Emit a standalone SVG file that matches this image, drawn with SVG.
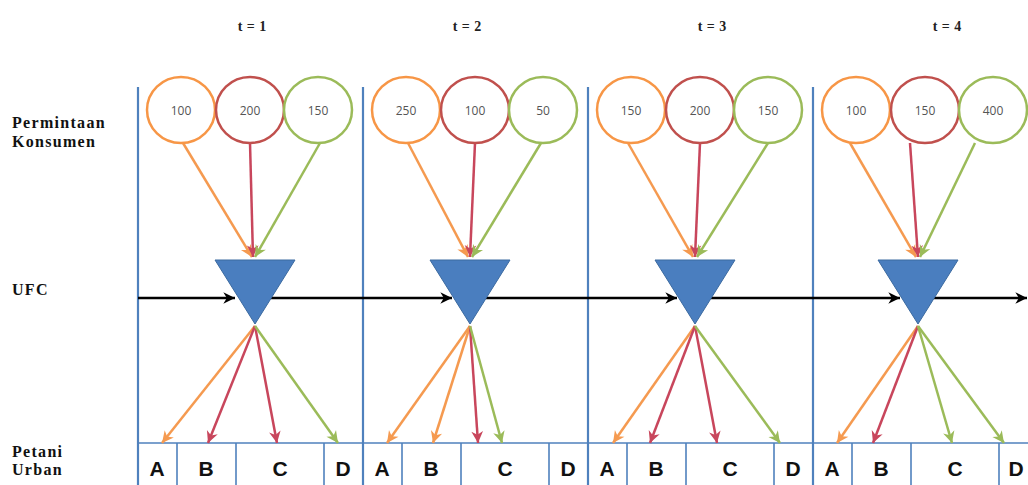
<svg xmlns="http://www.w3.org/2000/svg" width="1028" height="485" viewBox="0 0 1028 485">
<style>
.lbl{font-family:"Liberation Serif","Times New Roman",serif;font-weight:bold;font-size:16px;fill:#111;letter-spacing:1.3px}
.tl{font-family:"Liberation Serif","Times New Roman",serif;font-weight:bold;font-size:14px;fill:#222;text-anchor:middle;word-spacing:1px}
.num{font-family:"Open Sans","Liberation Sans",sans-serif;font-size:12px;fill:#555;text-anchor:middle}
.let{font-family:"Liberation Sans",Arial,sans-serif;font-weight:bold;font-size:21px;fill:#111;text-anchor:middle}
.panel{stroke:#4F81BD;stroke-width:2.2;fill:none}
.div{stroke:#4F81BD;stroke-width:1.6;fill:none}
.co{fill:#fff;stroke:#F79646;stroke-width:2.5}
.cr{fill:#fff;stroke:#C0504D;stroke-width:2.5}
.cg{fill:#fff;stroke:#9BBB59;stroke-width:2.5}
.ao{stroke:#F59A50;stroke-width:2.5;fill:none;marker-end:url(#mo)}
.ar{stroke:#C8465C;stroke-width:2.5;fill:none;marker-end:url(#mr)}
.ag{stroke:#9BBB59;stroke-width:2.5;fill:none;marker-end:url(#mg)}
.ak{stroke:#000;stroke-width:2.5;fill:none;marker-end:url(#mk)}
.tri{fill:#4A7EBF;stroke:#3B6AA0;stroke-width:1}
</style>
<defs>
<marker id="mo" markerUnits="userSpaceOnUse" markerWidth="14" markerHeight="14" viewBox="0 0 12 12" refX="11" refY="6" orient="auto"><path d="M1,1 L11,6 L1,11 L4,6 z" fill="#F59A50"/></marker>
<marker id="mr" markerUnits="userSpaceOnUse" markerWidth="14" markerHeight="14" viewBox="0 0 12 12" refX="11" refY="6" orient="auto"><path d="M1,1 L11,6 L1,11 L4,6 z" fill="#C8465C"/></marker>
<marker id="mg" markerUnits="userSpaceOnUse" markerWidth="14" markerHeight="14" viewBox="0 0 12 12" refX="11" refY="6" orient="auto"><path d="M1,1 L11,6 L1,11 L4,6 z" fill="#9BBB59"/></marker>
<marker id="mk" markerUnits="userSpaceOnUse" markerWidth="14" markerHeight="14" viewBox="0 0 12 12" refX="11" refY="6" orient="auto"><path d="M1,1 L11,6 L1,11 L4,6 z" fill="#000"/></marker>
</defs>
<rect width="1028" height="485" fill="#fff"/>

<g id="labels">
<text class="tl" x="252" y="31">t = 1</text>
<text class="tl" x="467" y="31">t = 2</text>
<text class="tl" x="712" y="31">t = 3</text>
<text class="tl" x="947" y="31">t = 4</text>
<text class="lbl" x="12" y="128">Permintaan</text>
<text class="lbl" x="12" y="147">Konsumen</text>
<text class="lbl" x="12" y="295">UFC</text>
<text class="lbl" x="12" y="457">Petani</text>
<text class="lbl" x="12" y="475">Urban</text>
</g>

<g id="grid">
<line class="panel" x1="138" y1="87" x2="138" y2="485"/>
<line class="panel" x1="363" y1="87" x2="363" y2="485"/>
<line class="panel" x1="588" y1="87" x2="588" y2="485"/>
<line class="panel" x1="813" y1="87" x2="813" y2="485"/>
<line class="div" x1="137" y1="443" x2="1028" y2="443"/>
<line class="div" x1="177" y1="443" x2="177" y2="485"/>
<line class="div" x1="236" y1="443" x2="236" y2="485"/>
<line class="div" x1="324" y1="443" x2="324" y2="485"/>
<line class="div" x1="402" y1="443" x2="402" y2="485"/>
<line class="div" x1="461" y1="443" x2="461" y2="485"/>
<line class="div" x1="549" y1="443" x2="549" y2="485"/>
<line class="div" x1="627" y1="443" x2="627" y2="485"/>
<line class="div" x1="686" y1="443" x2="686" y2="485"/>
<line class="div" x1="774" y1="443" x2="774" y2="485"/>
<line class="div" x1="852" y1="443" x2="852" y2="485"/>
<line class="div" x1="911" y1="443" x2="911" y2="485"/>
<line class="div" x1="999" y1="443" x2="999" y2="485"/>
</g>

<g id="connectors">
<line class="ak" x1="138" y1="298" x2="235" y2="298"/>
<line class="ak" x1="271" y1="298" x2="452" y2="298"/>
<line class="ak" x1="486" y1="298" x2="677" y2="298"/>
<line class="ak" x1="711" y1="298" x2="900" y2="298"/>
<line class="ak" x1="934" y1="298" x2="1027" y2="298"/>

<line class="ao" x1="183" y1="143" x2="252" y2="257"/>
<line class="ar" x1="250" y1="143" x2="253" y2="257"/>
<line class="ag" x1="320" y1="143" x2="255" y2="257"/>
<line class="ao" x1="408" y1="143" x2="468" y2="257"/>
<line class="ar" x1="475" y1="143" x2="470" y2="257"/>
<line class="ag" x1="541" y1="143" x2="472" y2="257"/>
<line class="ao" x1="628" y1="143" x2="693" y2="257"/>
<line class="ar" x1="700" y1="143" x2="695" y2="257"/>
<line class="ag" x1="768" y1="143" x2="697" y2="257"/>
<line class="ao" x1="850" y1="143" x2="916" y2="257"/>
<line class="ar" x1="910" y1="143" x2="918" y2="257"/>
<line class="ag" x1="975" y1="143" x2="920" y2="257"/>

<line class="ao" x1="255" y1="326" x2="162" y2="443"/>
<line class="ar" x1="255" y1="326" x2="208" y2="443"/>
<line class="ar" x1="255" y1="326" x2="277" y2="443"/>
<line class="ag" x1="255" y1="326" x2="338" y2="443"/>
<line class="ao" x1="470" y1="326" x2="387" y2="443"/>
<line class="ao" x1="470" y1="326" x2="433" y2="443"/>
<line class="ar" x1="470" y1="326" x2="478" y2="443"/>
<line class="ag" x1="470" y1="326" x2="502" y2="443"/>
<line class="ao" x1="695" y1="326" x2="613" y2="443"/>
<line class="ar" x1="695" y1="326" x2="650" y2="443"/>
<line class="ar" x1="695" y1="326" x2="717" y2="443"/>
<line class="ag" x1="695" y1="326" x2="780" y2="443"/>
<line class="ao" x1="918" y1="326" x2="837" y2="443"/>
<line class="ar" x1="918" y1="326" x2="873" y2="443"/>
<line class="ag" x1="918" y1="326" x2="952" y2="443"/>
<line class="ag" x1="918" y1="326" x2="1004" y2="443"/>
</g>

<g id="t1-demand">
<ellipse class="co" cx="181" cy="110" rx="34" ry="33"/><text class="num" x="181" y="115">100</text>
<ellipse class="cr" cx="250" cy="110" rx="34" ry="33"/><text class="num" x="250" y="115">200</text>
<ellipse class="cg" cx="318" cy="110" rx="34" ry="33"/><text class="num" x="318" y="115">150</text>
</g>
<g id="t2-demand">
<ellipse class="co" cx="406" cy="110" rx="34" ry="33"/><text class="num" x="406" y="115">250</text>
<ellipse class="cr" cx="475" cy="110" rx="34" ry="33"/><text class="num" x="475" y="115">100</text>
<ellipse class="cg" cx="543" cy="110" rx="34" ry="33"/><text class="num" x="543" y="115">50</text>
</g>
<g id="t3-demand">
<ellipse class="co" cx="631" cy="110" rx="34" ry="33"/><text class="num" x="631" y="115">150</text>
<ellipse class="cr" cx="700" cy="110" rx="34" ry="33"/><text class="num" x="700" y="115">200</text>
<ellipse class="cg" cx="768" cy="110" rx="34" ry="33"/><text class="num" x="768" y="115">150</text>
</g>
<g id="t4-demand">
<ellipse class="co" cx="856" cy="110" rx="34" ry="33"/><text class="num" x="856" y="115">100</text>
<ellipse class="cr" cx="925" cy="110" rx="34" ry="33"/><text class="num" x="925" y="115">150</text>
<ellipse class="cg" cx="993" cy="110" rx="34" ry="33"/><text class="num" x="993" y="115">400</text>
</g>

<g id="ufc1"><polygon class="tri" points="215,260 295,260 255,324"/></g>
<g id="ufc2"><polygon class="tri" points="430,260 510,260 470,324"/></g>
<g id="ufc3"><polygon class="tri" points="655,260 735,260 695,324"/></g>
<g id="ufc4"><polygon class="tri" points="878,260 958,260 918,324"/></g>

<g id="farmers">
<text class="let" x="157" y="476">A</text><text class="let" x="206" y="476">B</text><text class="let" x="280" y="476">C</text><text class="let" x="343" y="476">D</text>
<text class="let" x="382" y="476">A</text><text class="let" x="431" y="476">B</text><text class="let" x="505" y="476">C</text><text class="let" x="568" y="476">D</text>
<text class="let" x="607" y="476">A</text><text class="let" x="656" y="476">B</text><text class="let" x="730" y="476">C</text><text class="let" x="793" y="476">D</text>
<text class="let" x="832" y="476">A</text><text class="let" x="881" y="476">B</text><text class="let" x="955" y="476">C</text><text class="let" x="1016" y="476">D</text>
</g>
</svg>
